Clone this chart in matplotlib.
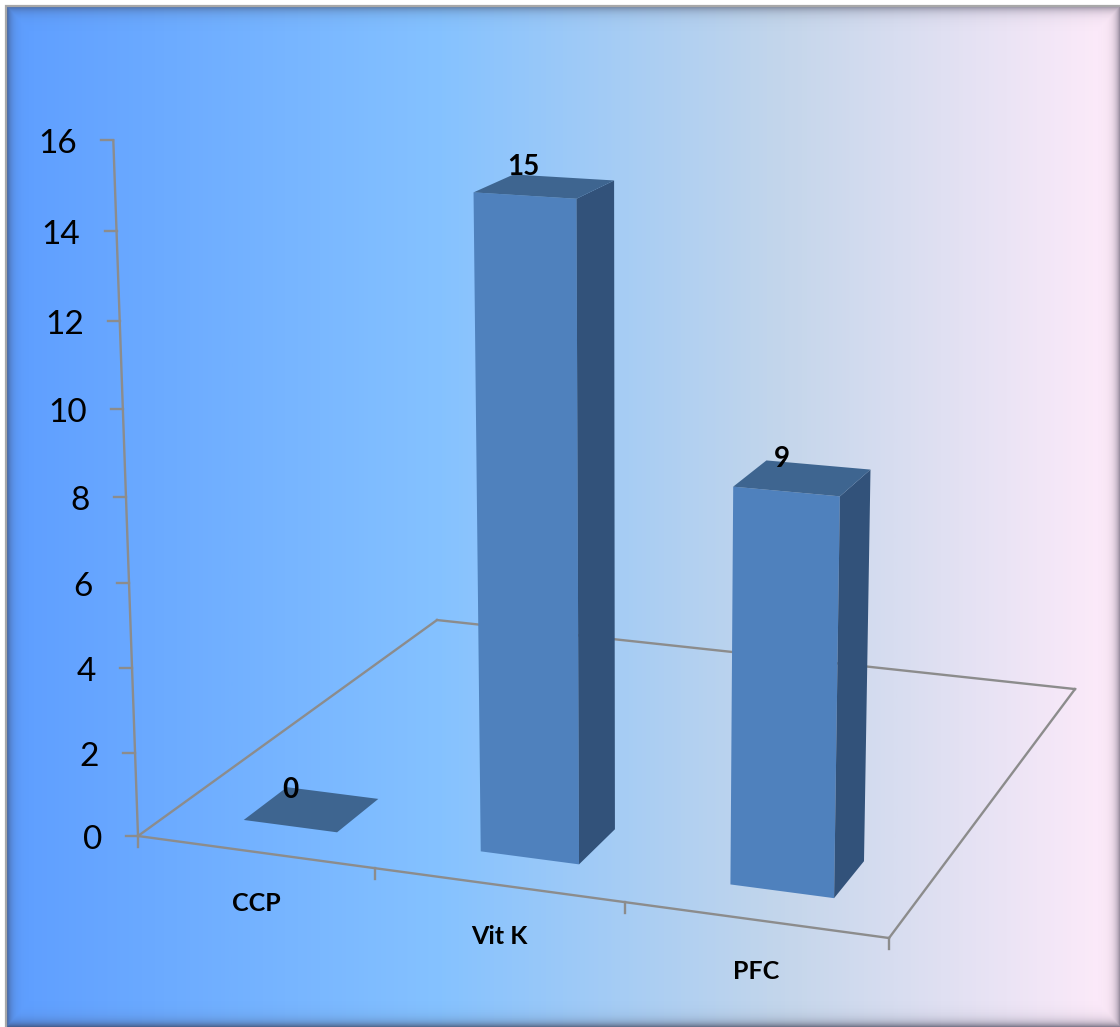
"""Perspective column chart with a Daybreak-style background."""
import matplotlib
matplotlib.use("Agg")
import matplotlib.pyplot as plt
import numpy as np
from matplotlib.colors import LinearSegmentedColormap
from matplotlib.patches import Polygon

categories = ["CCP", "Vit K", "PFC"]
values = [0, 15, 9]
y_ticks = [0, 2, 4, 6, 8, 10, 12, 14, 16]

W, H = 1120, 1027
BAR_WIDTH = 0.4
BAR_SHIFT = 0.008
DEPTH_FRONT, DEPTH_BACK = 0.10, 0.233
FRONT, SIDE, TOP = "#4f81bd", "#32527a", "#3e6590"
LINE = "#8c8c8c"

# camera: (category, depth, value, 1) -> homogeneous pixel position
CAMERA = np.array([
    [227.47, 386.2, -1.88, 138.0],
    [9.87, -92.2, -43.9, 836.0],
    [-0.02573, 0.1996, -0.00297, 1.0],
])


def project(x, d, z):
    p = CAMERA @ np.array([x, d, z, 1.0])
    return p[0] / p[2], p[1] / p[2]


def draw_line(ax, a, b):
    pa, pb = project(*a), project(*b)
    ax.plot([pa[0], pb[0]], [pa[1], pb[1]], color=LINE, lw=1.7,
            solid_capstyle="projecting", zorder=2)


def draw_background(ax):
    cmap = LinearSegmentedColormap.from_list(
        "daybreak", [(0, "#5e9eff"), (0.39, "#85c2ff"), (0.7, "#c4d6eb"), (1, "#ffebfa")])
    grad = np.linspace(0, 1, 1120).reshape(1, -1)
    ax.imshow(grad, cmap=cmap, extent=(7, W, H, 6), aspect="auto", zorder=0)

    # soft inner shadow along the frame, only inside the filled area
    xx, yy = np.meshgrid(np.arange(W) + 0.5, np.arange(H) + 0.5)
    left = 0.55 * np.exp(-np.clip(xx - 7, 0, None) / 4.5)
    top = 0.55 * np.exp(-np.clip(yy - 6, 0, None) / 5.0)
    right = 0.55 * np.exp(-(W - xx) / 4.5)
    bottom = 0.65 * np.exp(-(H - yy) / 5.0)
    alpha = np.maximum.reduce([left, top, right, bottom])
    alpha[(xx < 7) | (yy < 6)] = 0
    rgba = np.zeros((H, W, 4))
    rgba[..., :3] = (0.2, 0.2, 0.28)
    rgba[..., 3] = alpha
    ax.imshow(rgba, extent=(0, W, H, 0), aspect="auto", zorder=1)

    # thin grey rim on the upper left sides
    ax.plot([6, 6, W], [H, 5.5, 5.5], color="#a8a8a8", lw=1.6, zorder=1.5,
            solid_joinstyle="miter")


def draw_bar(ax, center, value):
    x0, x1 = center - BAR_WIDTH / 2, center + BAR_WIDTH / 2
    d0, d1 = DEPTH_FRONT, DEPTH_BACK
    faces = [
        ([(x0, d0, 0), (x1, d0, 0), (x1, d0, value), (x0, d0, value)], FRONT),
        ([(x1, d0, 0), (x1, d1, 0), (x1, d1, value), (x1, d0, value)], SIDE),
        ([(x0, d0, value), (x1, d0, value), (x1, d1, value), (x0, d1, value)], TOP),
    ]
    for corners, color in faces:
        pts = [project(*c) for c in corners]
        ax.add_patch(Polygon(pts, closed=True, facecolor=color, edgecolor="none", zorder=3))
    px, py = project(center, (d0 + d1) / 2, value)
    ax.text(px - 21, py - 19, str(value), fontsize=20, fontweight="bold", color="black",
            ha="center", va="center", zorder=4)


def main():
    plt.rcParams["font.family"] = ["Lato", "DejaVu Sans"]
    fig = plt.figure(figsize=(W / 100, H / 100), dpi=100, facecolor="white")
    ax = fig.add_axes([0, 0, 1, 1])
    draw_background(ax)

    n = len(categories)
    # floor outline
    draw_line(ax, (0, 0, 0), (n, 0, 0))
    draw_line(ax, (n, 0, 0), (n, 1, 0))
    draw_line(ax, (n, 1, 0), (0, 1, 0))
    draw_line(ax, (0, 1, 0), (0, 0, 0))

    # value axis
    draw_line(ax, (0, 0, 0), (0, 0, y_ticks[-1]))
    for t in y_ticks:
        px, py = project(0, 0, t)
        ax.plot([px - 12, px], [py, py], color=LINE, lw=1.7, zorder=2)
        ax.text(px - 36, py + 4, str(t), fontsize=24, color="black", ha="right",
                va="center", zorder=4)

    # category axis ticks and labels
    for i in range(n + 1):
        px, py = project(i, 0, 0)
        ax.plot([px, px], [py, py + 11], color=LINE, lw=1.7, zorder=2)
    for i, name in enumerate(categories):
        px, py = project(i + 0.5, 0, 0)
        ax.text(px + 1, py + 52, name, fontsize=18, fontweight="bold", color="black",
                ha="center", va="center", zorder=4)

    for i, v in enumerate(values):
        draw_bar(ax, i + 0.5 + BAR_SHIFT, v)

    ax.set_xlim(0, W)
    ax.set_ylim(H, 0)
    ax.axis("off")
    fig.savefig("out.png", dpi=100, facecolor="white")


if __name__ == "__main__":
    main()
